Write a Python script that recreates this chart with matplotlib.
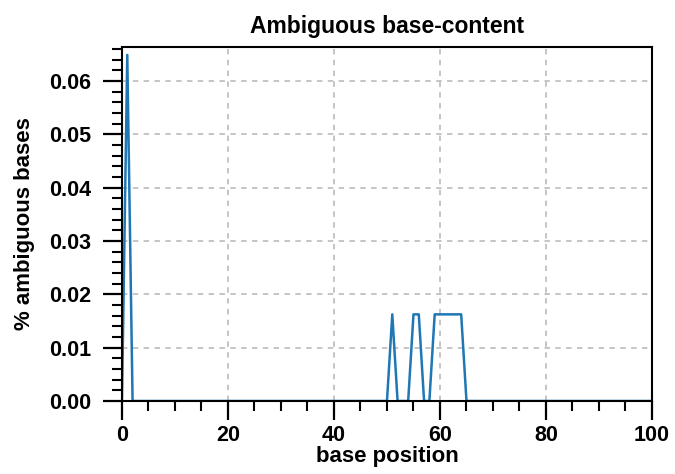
import matplotlib
matplotlib.use("Agg")
import matplotlib.pyplot as plt
from matplotlib.ticker import MultipleLocator, FormatStrFormatter

plt.rcParams['font.family'] = ['Liberation Sans', 'DejaVu Sans']
plt.rcParams['font.weight'] = 'bold'

# Ambiguous (N) base fraction per read position
positions = list(range(0, 101))
ambiguous = [0.0] * 101
ambiguous[1] = 0.0649
for p in [51, 55, 56, 59, 60, 61, 62, 63, 64]:
    ambiguous[p] = 0.01625

fig = plt.figure(figsize=(6.75, 4.74), dpi=100)
ax = fig.add_axes([0.1807, 0.154, 0.7852, 0.747])

ax.plot(positions, ambiguous, color='#1f77b4', linewidth=1.8)

ax.set_xlim(0, 100)
ax.set_ylim(0, 0.0664)
ax.xaxis.set_major_locator(MultipleLocator(20))
ax.xaxis.set_minor_locator(MultipleLocator(5))
ax.yaxis.set_major_locator(MultipleLocator(0.01))
ax.yaxis.set_minor_locator(MultipleLocator(0.002))
ax.yaxis.set_major_formatter(FormatStrFormatter('%.2f'))

ax.grid(True, which='major', linestyle=(0, (3, 3)), color='#c0c0c0', linewidth=1.3)
ax.set_axisbelow(True)

for s in ax.spines.values():
    s.set_linewidth(1.5)
ax.tick_params(which='major', direction='out', length=14, width=1.6, labelsize=15.5)
ax.tick_params(which='minor', direction='out', length=7.5, width=1.5)
ax.tick_params(axis='x', which='major', pad=3)
ax.tick_params(axis='y', which='major', pad=8)

ax.set_title('Ambiguous base-content', fontsize=16.5, fontweight='bold', pad=10)
ax.set_xlabel('base position', fontsize=16, fontweight='bold', labelpad=0)
ax.set_ylabel('% ambiguous bases', fontsize=16, fontweight='bold', labelpad=10.5)

fig.savefig('out.png', dpi=100)
